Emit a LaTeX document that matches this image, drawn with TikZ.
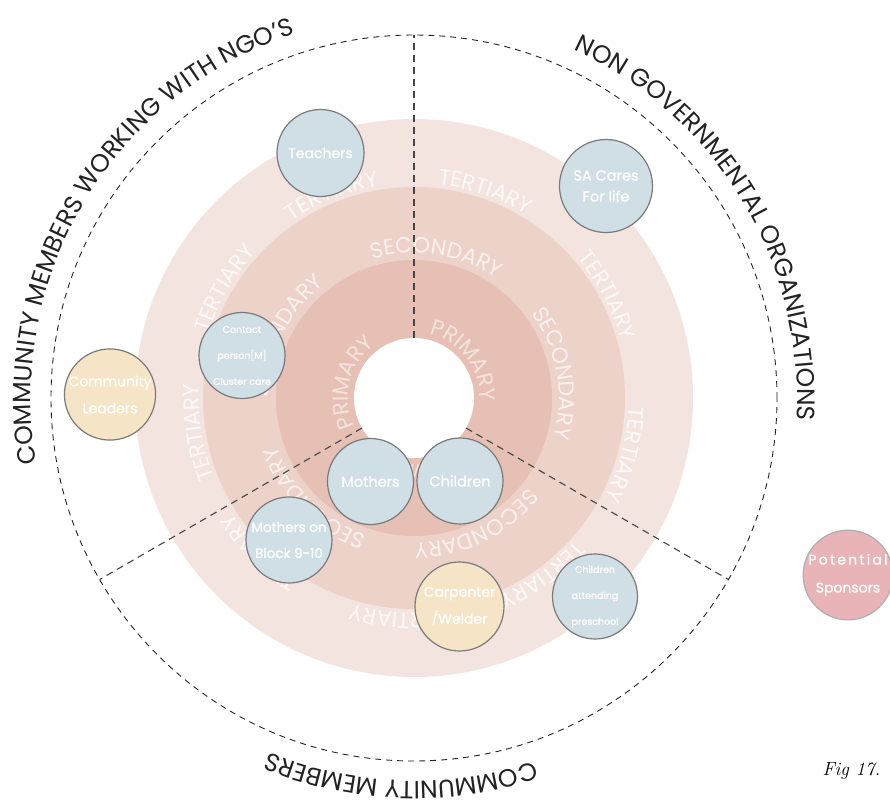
\documentclass[tikz,border=0pt]{standalone}
\usepackage{fontspec}
\usetikzlibrary{decorations.text}
\newfontfamily\futura{Poppins}
\newfontfamily\futuramed[FakeBold=0.8]{Poppins}
\newfontfamily\spacedfont[LetterSpace=16, FakeBold=0.8]{Poppins}
\definecolor{tertcol}{HTML}{F4E4E0}
\definecolor{seccol}{HTML}{EDD2CA}
\definecolor{primcol}{HTML}{E6C0B4}
\definecolor{bluecol}{HTML}{D0DFE6}
\definecolor{yellowcol}{HTML}{F6E4C6}
\definecolor{pinkcol}{HTML}{E8B4B8}
\definecolor{rimcol}{HTML}{7A7A7A}
\definecolor{dashcol}{HTML}{444444}
\definecolor{titlecol}{HTML}{222222}
\newcommand{\ringfont}{\futura\fontsize{22}{22}\selectfont}
\newcommand{\titlefont}{\futura\fontsize{25}{25}\selectfont}
\newcommand{\ringlabel}[4]{\path[decorate, decoration={text along path, text align=center, text={|\ringfont\color{#4}|#3}}] ({#2+60}:#1) arc[start angle={#2+60}, end angle={#2-60}, radius=#1];}
\newcommand{\titlelabel}[3]{\path[decorate, decoration={text along path, text align=center, text={|\titlefont\color{titlecol}|#3}}] ({#1+80}:#2) arc[start angle={#1+80}, end angle={#1-80}, radius=#2];}
\tikzset{
  actor/.style={circle, draw=rimcol, line width=1.2pt, fill=bluecol, text=white, align=center, inner sep=0pt, minimum size=86pt, font=\futuramed\fontsize{14}{26}\selectfont},
  actor small/.style={actor, font=\futuramed\fontsize{9.5}{26}\selectfont},
  helper/.style={actor, fill=yellowcol, font=\futuramed\fontsize{14}{27}\selectfont},
  divider/.style={dashcol, line width=1.1pt, dash pattern=on 7pt off 5pt},
  outer ring/.style={titlecol, line width=0.9pt, dash pattern=on 6pt off 5pt},
}

\begin{document}
\begin{tikzpicture}[x=1pt, y=1pt]
        \useasboundingbox (-414,-409) rectangle (476,398);
        % rings
        \fill[tertcol] (0,0) circle[radius=279];
        \fill[seccol] (0,0) circle[radius=211];
        \fill[primcol] (0,0) circle[radius=138];
        \fill[white] (0,0) circle[radius=60];
        % ring labels
        \ringlabel{66}{37}{PRIMARY}{white!55!primcol}
        \ringlabel{66}{166}{PRIMARY}{white!55!primcol}
        \ringlabel{66}{270}{PRIMARY}{white!55!primcol}
        \ringlabel{145}{81}{SECONDARY}{white!70!seccol}
        \ringlabel{145}{10}{SECONDARY}{white!70!seccol}
        \ringlabel{145}{154}{SECONDARY}{white!70!seccol}
        \ringlabel{145}{225}{SECONDARY}{white!70!seccol}
        \ringlabel{145}{-64}{SECONDARY}{white!70!seccol}
        \ringlabel{215}{112}{TERTIARY}{white!78!tertcol}
        \ringlabel{215}{150}{TERTIARY}{white!78!tertcol}
        \ringlabel{215}{189}{TERTIARY}{white!78!tertcol}
        \ringlabel{215}{71}{TERTIARY}{white!78!tertcol}
        \ringlabel{215}{28}{TERTIARY}{white!78!tertcol}
        \ringlabel{215}{-15}{TERTIARY}{white!78!tertcol}
        \ringlabel{215}{225}{TERTIARY}{white!78!tertcol}
        \ringlabel{215}{266}{TERTIARY}{white!78!tertcol}
        \ringlabel{215}{-54}{TERTIARY}{white!78!tertcol}
        % sectors
        \foreach \a in {90,210,330}
          \draw[divider] (\a:60) -- (\a:363);
        \draw[outer ring] (0,0) circle[radius=363];
        % sector titles
        \titlelabel{149}{383}{COMMUNITY MEMBERS WORKING WITH NGO’S}
        \titlelabel{31}{383}{NON GOVERNMENTAL ORGANIZATIONS}
        \titlelabel{268}{383}{COMMUNITY MEMBERS}
        % people
        \node[actor, minimum size=87pt] (teachers) at (-93.5,245) {Teachers};
        \node[actor, minimum size=93pt, font=\futuramed\fontsize{14.5}{21}\selectfont] (sacares) at (192,212) {SA Cares\\For life};
        \node[actor small] (contact) at (-172,42.5) {Contact\\person[M]\\Cluster care};
        \node[helper] (leaders) at (-304,3.5) {Community\\Leaders};
        \node[actor, font=\futuramed\fontsize{14.5}{26}\selectfont] (mothers) at (-43.5,-83.5) {Mothers};
        \node[actor, font=\futuramed\fontsize{14.5}{26}\selectfont] (children) at (46,-83) {Children};
        \node[actor, font=\futuramed\fontsize{13.5}{26}\selectfont] (block) at (-125,-142) {Mothers on\\Block 9-10};
        \node[helper, minimum size=89pt] (carpenter) at (45.5,-208.5) {Carpenter\\/Welder};
        \node[actor small, minimum size=85pt] (preschool) at (181,-198.5) {Children\\attending\\preschool};
        \node[actor, fill=pinkcol, draw=rimcol!60, minimum size=85pt, font=\futuramed\fontsize{14}{28}\selectfont] (sponsors) at (434,-177) {{\spacedfont Potential}\\Sponsors};
        \node[anchor=base west, font=\fontsize{19}{19}\selectfont\itshape] (fig) at (405,-377) {Fig 17.};
\end{tikzpicture}
\end{document}
